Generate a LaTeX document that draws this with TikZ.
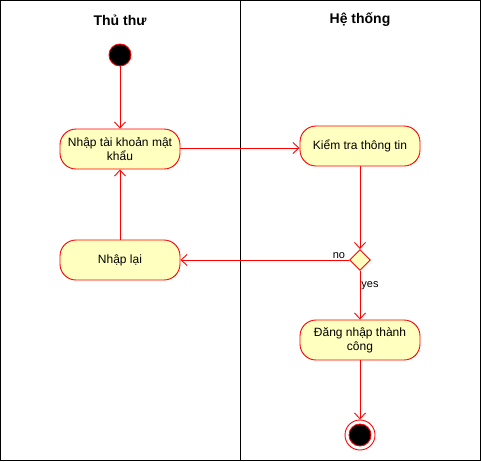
\documentclass[tikz,border=0pt]{standalone}
\usepackage{fontspec}
\setmainfont{Liberation Sans}
\usetikzlibrary{arrows.meta,shapes.geometric}
\definecolor{actfill}{HTML}{FFFFC0}
\tikzset{
  act/.style={draw=red, line width=0.9pt, fill=actfill, rounded corners=16pt, minimum width=120pt, minimum height=40pt, align=center, font=\fontsize{12}{14}\selectfont, inner sep=2pt},
  conn/.style={draw=red, line width=0.9pt, -{Straight Barb[length=6pt,width=11pt]}},
  lbl/.style={font=\fontsize{11}{13}\selectfont, inner sep=1pt},
  hdr/.style={font=\bfseries\fontsize{14}{16}\selectfont}
}
\begin{document}
\begin{tikzpicture}[x=1pt,y=-1pt]
\useasboundingbox (0,0) rectangle (481,461);
\draw[black, line width=0.9pt] (0.5,0.5) rectangle (480.5,460.5);
\draw[black, line width=0.9pt] (240.5,0.5) -- (240.5,460.5);
\node[hdr] (h1) at (120,20) {Thủ thư};
\node[hdr] (h2) at (360,20) {Hệ thống};
\node[circle, draw=red, line width=0.9pt, fill=black, minimum size=22pt, inner sep=0pt] (start) at (120,55) {};
\node[act] (n1) at (120,149) {Nhập tài khoản mật\\khẩu};
\node[act] (n2) at (360,146) {Kiểm tra thông tin};
\node[act] (n3) at (120,260) {Nhập lại};
\node[diamond, draw=red, line width=0.9pt, fill=actfill, minimum size=21pt, inner sep=0pt] (d) at (360,260) {};
\node[act] (n4) at (360,340) {Đăng nhập thành\\công};
\node[circle, draw=red, line width=0.9pt, fill=white, minimum size=30pt, inner sep=0pt] (endo) at (360,435) {};
\node[circle, draw=red, line width=0.9pt, fill=black, minimum size=22pt, inner sep=0pt] (endi) at (360,435) {};
\draw[conn] (start) -- (n1);
\draw[conn] ([yshift=1pt]n1.east) -- ([yshift=-2pt]n2.west);
\draw[conn] (n2) -- (d);
\draw[conn] (d) -- node[lbl, pos=0.06, above] {no} (n3);
\draw[conn] (n3) -- (n1);
\draw[conn] (d) -- node[lbl, pos=0.3, right] {yes} (n4);
\draw[conn] (n4) -- (endo);
\end{tikzpicture}
\end{document}
